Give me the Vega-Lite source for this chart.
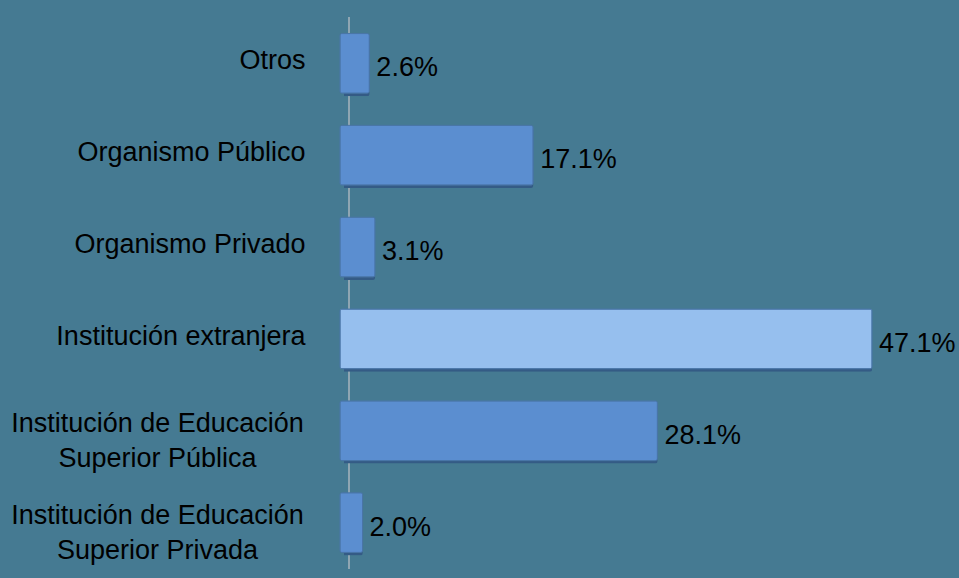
{
  "$schema": "https://vega.github.io/schema/vega-lite/v6.json",
  "autosize": {"type": "none"},
  "width": 619,
  "height": 552,
  "padding": {"left": 340, "top": 17, "right": 0, "bottom": 9},
  "background": "#457a92",
  "config": {"view": {"stroke": null}, "font": "Liberation Sans"},
  "data": {"values": [
    {"cat": "Otros", "value": 2.6, "label": "2.6%", "hl": "no"},
    {"cat": "Organismo Público", "value": 17.1, "label": "17.1%", "hl": "no"},
    {"cat": "Organismo Privado", "value": 3.1, "label": "3.1%", "hl": "no"},
    {"cat": "Institución extranjera", "value": 47.1, "label": "47.1%", "hl": "yes"},
    {"cat": "Institución de Educación|Superior Pública", "value": 28.1, "label": "28.1%", "hl": "no"},
    {"cat": "Institución de Educación|Superior Privada", "value": 2.0, "label": "2.0%", "hl": "no"}
  ]},
  "encoding": {
    "y": {"field": "cat", "type": "nominal", "sort": null,
      "scale": {"paddingInner": 0.35, "paddingOuter": 0.18},
      "axis": {"title": null, "domain": false, "ticks": false,
        "labelPadding": {"condition": {"test": "indexof(datum.value, '|') >= 0", "value": 183}, "value": 35},
        "labelAlign": {"condition": {"test": "indexof(datum.value, '|') >= 0", "value": "center"}, "value": "right"},
        "labelOffset": {"condition": {"test": "indexof(datum.value, '|') >= 0", "value": -7}, "value": -2},
        "labelFontSize": 27, "labelColor": "#000000", "labelFont": "Liberation Sans",
        "labelLimit": 400, "labelLineHeight": 35,
        "labelExpr": "split(datum.label, '|')"}},
    "x": {"field": "value", "type": "quantitative",
      "scale": {"domain": [0, 54.8]}, "axis": null}
  },
  "layer": [
    {"mark": {"type": "rule", "color": "#8fa6b3", "strokeWidth": 1.5},
     "encoding": {"x": {"datum": 0.8}, "y": null}},
    {"mark": {"type": "bar", "color": "#345b85", "xOffset": 4, "yOffset": 3, "cornerRadius": 2}},
    {"mark": {"type": "bar", "cornerRadius": 2, "stroke": "#4a76a8", "strokeWidth": 1},
     "encoding": {"color": {"field": "hl", "type": "nominal",
       "scale": {"domain": ["no", "yes"], "range": ["#5b8ed0", "#96bfee"]}, "legend": null}}},
    {"mark": {"type": "text", "align": "left", "baseline": "middle", "dx": 7, "dy": 5, "fontSize": 27, "color": "#000000", "font": "Liberation Sans"},
     "encoding": {"text": {"field": "label"},
       "x": {"field": "value", "type": "quantitative"}}}
  ]
}
